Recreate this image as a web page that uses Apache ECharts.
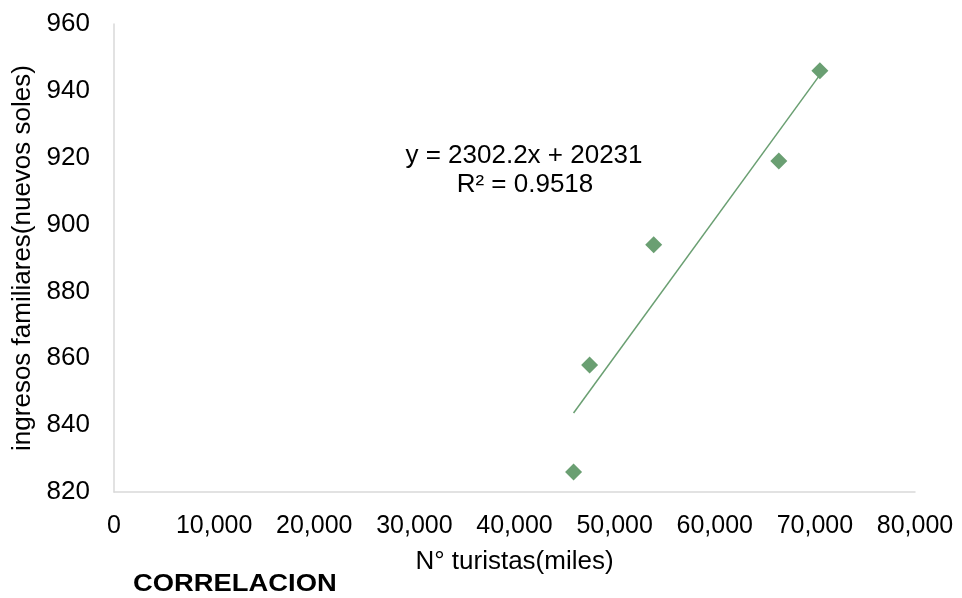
<!DOCTYPE html>
<html><head><meta charset="utf-8">
<script src="https://cdn.jsdelivr.net/npm/echarts@6/dist/echarts.min.js"></script>
<style>html,body{margin:0;padding:0;background:#fff}#c{width:962px;height:598px}</style>
</head><body><div id="c"></div>
<script>
const turistas = [45900, 47500, 53900, 66400, 70500];
const ingresos = [826, 858, 894, 919, 946];
const xTicks = [0, 80000, 10000];
const yTicks = [820, 960, 20];
const eqLine1 = 'y = 2302.2x + 20231';
const eqLine2 = 'R² = 0.9518';

// least-squares trendline from the data
const n = turistas.length;
const mx = turistas.reduce((a,b)=>a+b,0)/n, my = ingresos.reduce((a,b)=>a+b,0)/n;
let sxy=0, sxx=0;
for (let i=0;i<n;i++){sxy+=(turistas[i]-mx)*(ingresos[i]-my);sxx+=(turistas[i]-mx)**2;}
const slope=sxy/sxx, icpt=my-slope*mx;
const xmin=Math.min(...turistas), xmax=Math.max(...turistas);
const trend=[[xmin,icpt+slope*xmin],[xmax,icpt+slope*xmax]];

const green='#6a9f72';
const font='Liberation Sans, Arial, sans-serif';
const chart=echarts.init(document.getElementById('c'));
chart.setOption({
  animation:false,
  grid:{left:114,right:47,top:24,bottom:106},
  xAxis:{type:'value',min:xTicks[0],max:xTicks[1],interval:xTicks[2],
    name:'N° turistas(miles)',nameLocation:'middle',nameGap:57,
    nameTextStyle:{fontFamily:font,fontSize:26,color:'#000'},
    axisLine:{show:true,lineStyle:{color:'#d9d9d9',width:1.5}},axisTick:{show:false},splitLine:{show:false},
    axisLabel:{fontFamily:font,fontSize:25,color:'#000',margin:22,
      formatter:v=>v.toLocaleString('en-US')}},
  yAxis:{type:'value',min:yTicks[0],max:yTicks[1],interval:yTicks[2],
    name:'ingresos familiares(nuevos soles)',nameLocation:'middle',nameGap:77,
    nameTextStyle:{fontFamily:font,fontSize:26,color:'#000'},
    axisLine:{show:true,lineStyle:{color:'#d9d9d9',width:1.5}},axisTick:{show:false},splitLine:{show:false},
    axisLabel:{fontFamily:font,fontSize:26,color:'#000',margin:24}},
  graphic:[
    {type:'text',x:133,y:572,scaleX:1.14,style:{text:'CORRELACION',font:'bold 24px '+font,fill:'#000',textVerticalAlign:'top'}},
    {type:'text',x:524,y:156,style:{text:eqLine1,font:'26px '+font,fill:'#000',textAlign:'center',textVerticalAlign:'middle'}},
    {type:'text',x:525,y:185,style:{text:eqLine2,font:'26px '+font,fill:'#000',textAlign:'center',textVerticalAlign:'middle'}}
  ],
  series:[
    {type:'line',data:trend,symbol:'none',lineStyle:{color:green,width:1.5},z:1},
    {type:'scatter',data:turistas.map((x,i)=>[x,ingresos[i]]),symbol:'diamond',symbolSize:[17,17],
      itemStyle:{color:green,opacity:1},z:2}
  ]
});
</script></body></html>
